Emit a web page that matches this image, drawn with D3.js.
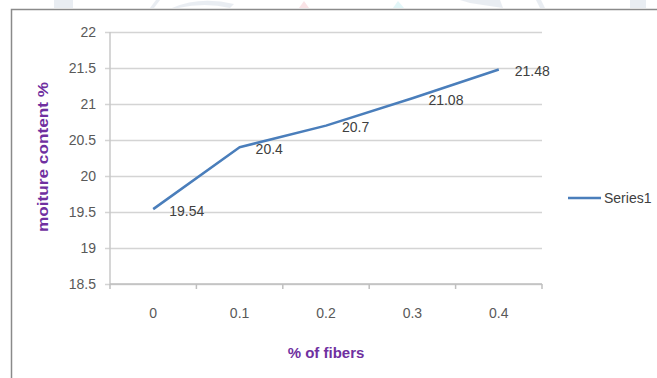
<!DOCTYPE html>
<html>
<head>
<meta charset="utf-8">
<script src="https://cdn.jsdelivr.net/npm/d3@7"></script>
<style>
  html, body { margin: 0; padding: 0; background: #ffffff; }
  svg { display: block; font-family: "Liberation Sans", Arial, sans-serif; }
</style>
</head>
<body>
<svg id="chart" width="657" height="378"></svg>
<script>
// Moisture content by fibre dosage
const categories = ["0", "0.1", "0.2", "0.3", "0.4"];
const moisture = [19.54, 20.4, 20.7, 21.08, 21.48];
const yTicks = [18.5, 19, 19.5, 20, 20.5, 21, 21.5, 22];
const seriesName = "Series1";
const xTitle = "% of fibers";
const yTitle = "moiture content %";

const svg = d3.select("#chart");

// faint decorative strip above the chart frame
const deco = svg.append("g").attr("opacity", 0.5);
deco.append("rect").attr("x", 54).attr("y", 0).attr("width", 19).attr("height", 8).attr("fill", "#d5dce6");
deco.append("path").attr("d", "M150,8 L156,0 L160,0 L154,8 Z").attr("fill", "#d5dce6");
deco.append("path").attr("d", "M172,8 Q200,-4 234,4 L230,8 Q205,2 178,8 Z").attr("fill", "#d5dce6");
deco.append("path").attr("d", "M299,8 L304,1 L309,8 Z").attr("fill", "#f6c9cf");
deco.append("path").attr("d", "M393,8 L398,1 L404,8 Z").attr("fill", "#c6eef3");
deco.append("path").attr("d", "M460,0 L500,0 L503,8 L470,3 Z").attr("fill", "#d5dce6");
deco.append("path").attr("d", "M536,0 L541,0 L545,8 L540,8 Z").attr("fill", "#d5dce6");
deco.append("rect").attr("x", 630).attr("y", 0).attr("width", 16).attr("height", 8).attr("fill", "#d5dce6");

// chart frame (open to the right and bottom)
svg.append("path")
  .attr("d", "M11.5,378 L11.5,9.5 L657,9.5")
  .attr("fill", "none")
  .attr("stroke", "#8a8a8a")
  .attr("stroke-width", 1.5);

const plot = { left: 110, right: 542, top: 32, bottom: 284 };

const x = d3.scaleBand().domain(categories).range([plot.left, plot.right]);
const y = d3.scaleLinear().domain([18.5, 22]).range([plot.bottom, plot.top]);

// horizontal gridlines + y axis
const yAxis = d3.axisLeft(y)
  .tickValues(yTicks)
  .tickSize(-(plot.right - plot.left))
  .tickPadding(14)
  .tickFormat(d3.format(""));

const gy = svg.append("g")
  .attr("transform", `translate(${plot.left},0)`)
  .call(yAxis);
gy.select(".domain").remove();
gy.selectAll(".tick line")
  .attr("x1", 5)
  .attr("stroke", "#d4d4d4")
  .attr("stroke-width", 1.5);
gy.selectAll(".tick line").attr("x1", -5);
gy.selectAll(".tick text")
  .attr("fill", "#595959")
  .attr("font-size", "14px")
  .attr("dy", "0.35em");

// vertical axis line
svg.append("line")
  .attr("x1", plot.left).attr("x2", plot.left)
  .attr("y1", y(22)).attr("y2", y(18.5))
  .attr("stroke", "#c8c8c8").attr("stroke-width", 1.5);

// category axis
const xAxis = d3.axisBottom(x).tickSize(0).tickPadding(24);
const gx = svg.append("g")
  .attr("transform", `translate(0,${plot.bottom})`)
  .call(xAxis);
gx.select(".domain")
  .attr("stroke", "#bfbfbf").attr("stroke-width", 1.5)
  .attr("d", `M${plot.left},0H${plot.right}`);
gx.selectAll(".tick text")
  .attr("fill", "#595959")
  .attr("font-size", "14px");

// tick marks on the category boundaries
const bounds = categories.map(c => x(c)).concat([x(categories[categories.length - 1]) + x.bandwidth()]);
gx.selectAll(".bound")
  .data(bounds)
  .join("line")
  .attr("class", "bound")
  .attr("x1", d => d).attr("x2", d => d)
  .attr("y1", 0).attr("y2", 5)
  .attr("stroke", "#bfbfbf").attr("stroke-width", 1.5);

// series line
const pts = categories.map((c, i) => ({ cx: x(c) + x.bandwidth() / 2, v: moisture[i] }));
const line = d3.line().x(d => d.cx).y(d => y(d.v));
svg.append("path")
  .datum(pts)
  .attr("d", line)
  .attr("fill", "none")
  .attr("stroke", "#4a7ebb")
  .attr("stroke-width", 2.5)
  .attr("stroke-linejoin", "round");

// value labels to the right of each point
svg.selectAll(".vlabel")
  .data(pts)
  .join("text")
  .attr("class", "vlabel")
  .attr("x", d => d.cx + 16)
  .attr("y", d => y(d.v) + 1.5)
  .attr("dy", "0.35em")
  .attr("fill", "#404040")
  .attr("font-size", "14px")
  .text(d => String(d.v));

// axis titles
svg.append("text")
  .attr("x", (plot.left + plot.right) / 2)
  .attr("y", 358)
  .attr("text-anchor", "middle")
  .attr("fill", "#7030a0")
  .attr("font-size", "15px")
  .attr("font-weight", "bold")
  .text(xTitle);

svg.append("text")
  .attr("transform", "translate(48,157) rotate(-90)")
  .attr("text-anchor", "middle")
  .attr("fill", "#7030a0")
  .attr("font-size", "15px")
  .attr("font-weight", "bold")
  .attr("textLength", 150)
  .attr("lengthAdjust", "spacingAndGlyphs")
  .text(yTitle);

// legend
const lg = svg.append("g").attr("transform", "translate(568,198)");
lg.append("line")
  .attr("x1", 0).attr("x2", 33)
  .attr("stroke", "#4a7ebb").attr("stroke-width", 2.5);
lg.append("text")
  .attr("x", 36).attr("dy", "0.35em")
  .attr("fill", "#404040")
  .attr("font-size", "14px")
  .text(seriesName);
</script>
</body>
</html>
